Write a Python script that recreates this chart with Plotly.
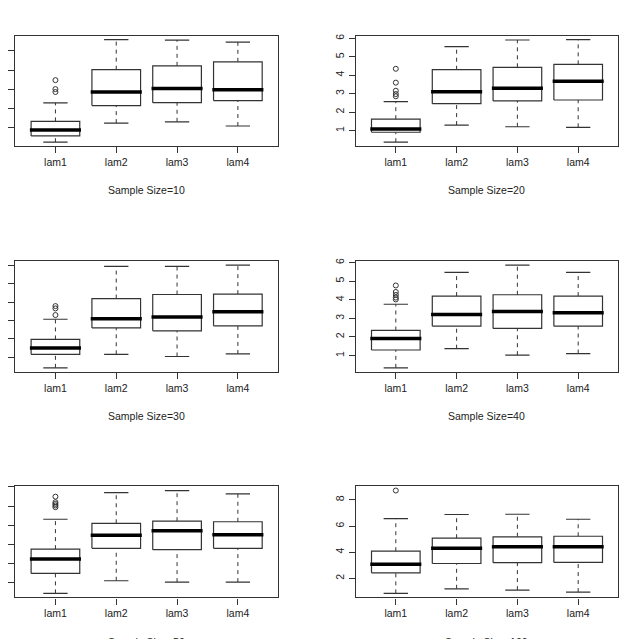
import plotly.graph_objects as go

# ---------------- data ----------------
categories = ["lam1", "lam2", "lam3", "lam4"]
sample_sizes = [10, 20, 30, 40, 50, 100]

whisker_low = [
    [0.22, 1.22, 1.29, 1.07],
    [0.37, 1.30, 1.21, 1.18],
    [0.42, 1.16, 1.04, 1.18],
    [0.34, 1.37, 1.02, 1.11],
    [0.44, 1.10, 1.03, 1.03],
    [0.86, 1.21, 1.11, 0.96],
]
q1 = [
    [0.55, 2.14, 2.29, 2.40],
    [0.91, 2.46, 2.61, 2.66],
    [1.16, 2.60, 2.44, 2.71],
    [1.30, 2.58, 2.46, 2.58],
    [1.48, 2.79, 2.72, 2.79],
    [2.43, 3.14, 3.20, 3.22],
]
median = [
    [0.86, 2.85, 3.03, 2.97],
    [1.09, 3.10, 3.30, 3.68],
    [1.50, 3.10, 3.20, 3.48],
    [1.92, 3.21, 3.37, 3.30],
    [2.23, 3.48, 3.71, 3.50],
    [3.09, 4.31, 4.42, 4.42],
]
q3 = [
    [1.31, 4.02, 4.22, 4.43],
    [1.62, 4.30, 4.43, 4.59],
    [1.97, 4.20, 4.42, 4.44],
    [2.35, 4.20, 4.27, 4.20],
    [2.75, 4.10, 4.21, 4.18],
    [4.08, 5.07, 5.18, 5.22],
]
whisker_high = [
    [2.28, 5.59, 5.57, 5.46],
    [2.57, 5.55, 5.91, 5.93],
    [3.07, 5.96, 5.96, 6.02],
    [3.76, 5.47, 5.86, 5.47],
    [4.31, 5.70, 5.81, 5.64],
    [6.57, 6.88, 6.90, 6.52],
]
# outliers (all belong to lam1)
outliers_lam1 = [
    [3.47, 3.00, 2.85],
    [4.35, 3.60, 3.16, 2.98, 2.86],
    [3.79, 3.66, 3.30],
    [4.77, 4.42, 4.26, 4.12, 4.02],
    [5.49, 5.20, 5.11, 5.03, 4.94],
    [8.71],
]
ytick_values = [
    [1, 2, 3, 4, 5],
    [1, 2, 3, 4, 5, 6],
    [1, 2, 3, 4, 5, 6],
    [1, 2, 3, 4, 5, 6],
    [1, 2, 3, 4, 5, 6],
    [2, 4, 6, 8],
]

# ---------------- layout geometry (pixels) ----------------
W, H = 626, 639
col_px = [(15.3, 278.0), (355.7, 618.3)]
row_px = [(32.7, 144.0), (259.3, 370.7), (485.7, 597.3)]
FONT = "Liberation Sans, Arial, sans-serif"
FS = 10.5
LINE = "#333333"

BOXW = 0.4   # half box width
CAPW = 0.2   # half cap width

fig = go.Figure()
layout = dict(
    width=W, height=H, margin=dict(l=0, r=0, t=0, b=0),
    paper_bgcolor="white", plot_bgcolor="white", showlegend=False,
    font=dict(family=FONT, size=FS, color="#222222"),
)
annotations = []

for p in range(6):
    r, c = divmod(p, 2)
    ax = "" if p == 0 else str(p + 1)
    xref, yref = "x" + ax, "y" + ax
    x0, x1 = col_px[c]
    y0, y1 = row_px[r]

    n = len(categories)
    xs = list(range(1, n + 1))

    # solid: boxes + caps
    sx, sy = [], []
    mx, my = [], []
    wx, wy = [], []
    for i, xc in enumerate(xs):
        lo, a, m, b, hi = whisker_low[p][i], q1[p][i], median[p][i], q3[p][i], whisker_high[p][i]
        sx += [xc - BOXW, xc + BOXW, xc + BOXW, xc - BOXW, xc - BOXW, None]
        sy += [a, a, b, b, a, None]
        sx += [xc - CAPW, xc + CAPW, None, xc - CAPW, xc + CAPW, None]
        sy += [lo, lo, None, hi, hi, None]
        mx += [xc - BOXW - 0.02, xc + BOXW + 0.02, None]
        my += [m, m, None]
        wx += [xc, xc, None, xc, xc, None]
        wy += [lo, a, None, b, hi, None]

    fig.add_trace(go.Scatter(x=wx, y=wy, mode="lines", xaxis=xref, yaxis=yref,
                             line=dict(color=LINE, width=1, dash="4px,4px"), hoverinfo="skip"))
    fig.add_trace(go.Scatter(x=sx, y=sy, mode="lines", xaxis=xref, yaxis=yref,
                             line=dict(color=LINE, width=1.2), hoverinfo="skip"))
    fig.add_trace(go.Scatter(x=mx, y=my, mode="lines", xaxis=xref, yaxis=yref,
                             line=dict(color="black", width=3.5), hoverinfo="skip"))
    fig.add_trace(go.Scatter(x=[1] * len(outliers_lam1[p]), y=outliers_lam1[p], mode="markers",
                             xaxis=xref, yaxis=yref,
                             marker=dict(symbol="circle-open", size=5, color=LINE, line=dict(width=1))))

    # R-style axis ranges (4% extension)
    allv = whisker_low[p] + whisker_high[p] + outliers_lam1[p]
    vmin, vmax = min(allv), max(allv)
    ext = 0.04 * (vmax - vmin)
    xr = [0.5 - 0.04 * n, n + 0.5 + 0.04 * n]

    layout["xaxis" + ax] = dict(
        domain=[x0 / W, x1 / W], anchor=yref, range=xr,
        tickmode="array", tickvals=xs, ticktext=categories,
        ticks="outside", ticklen=6, tickcolor=LINE, tickwidth=1,
        showline=True, mirror=True, linecolor=LINE, linewidth=1.2,
        showgrid=False, zeroline=False, fixedrange=True,
        tickfont=dict(family=FONT, size=FS, color="#222222"),
    )
    layout["yaxis" + ax] = dict(
        domain=[1 - y1 / H, 1 - y0 / H], anchor=xref, range=[vmin - ext, vmax + ext],
        tickmode="array", tickvals=ytick_values[p], ticktext=[str(v) for v in ytick_values[p]],
        ticks="outside", ticklen=6, tickcolor=LINE, tickwidth=1,
        showticklabels=(c == 1), tickangle=-90,
        showline=True, mirror=True, linecolor=LINE, linewidth=1.2,
        showgrid=False, zeroline=False, fixedrange=True,
        tickfont=dict(family=FONT, size=FS, color="#222222"),
    )
    annotations.append(dict(
        text="Sample Size=%d" % sample_sizes[p], xref="paper", yref="paper",
        x=(x0 + x1) / 2 / W, y=1 - (y1 + 44.3) / H, xanchor="center", yanchor="middle",
        showarrow=False, font=dict(family=FONT, size=FS, color="#222222"),
    ))

layout["annotations"] = annotations
fig.update_layout(**layout)
fig.write_html("out.html")
